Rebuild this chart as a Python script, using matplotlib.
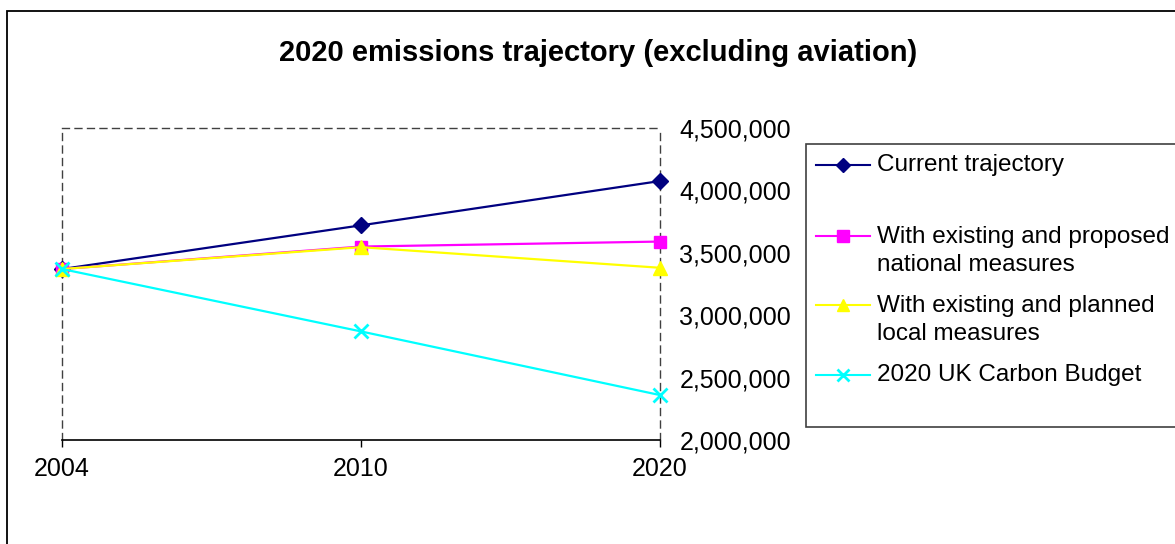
import matplotlib
matplotlib.use("Agg")
import matplotlib.pyplot as plt
from matplotlib.lines import Line2D
from matplotlib.patches import Rectangle
from matplotlib.ticker import FuncFormatter

plt.rcParams['font.family'] = ['Liberation Sans', 'DejaVu Sans']

years = ["2004", "2010", "2020"]
current = [3370000, 3720000, 4075000]
national = [3370000, 3550000, 3590000]
local = [3370000, 3545000, 3380000]
budget = [3370000, 2870000, 2360000]
series_names = ["Current trajectory",
                "With existing and proposed\nnational measures",
                "With existing and planned\nlocal measures",
                "2020 UK Carbon Budget"]
colors = ["#000080", "#FF00FF", "#FFFF00", "#00FFFF"]
markers = ["D", "s", "^", "x"]
msizes = [8, 9, 10, 10]

W, H = 1175, 544
fig = plt.figure(figsize=(W / 100, H / 100), dpi=100)

def fx(x):
    return x / W

def fy(y):
    return 1 - y / H

# outer chart border (cropped at right and bottom)
fig.add_artist(Rectangle((fx(7), fy(600)), fx(1300 - 7), fy(11) - fy(600),
                         transform=fig.transFigure, fill=False,
                         edgecolor="black", linewidth=1.3))

fig.text(fx(598), fy(53), "2020 emissions trajectory (excluding aviation)",
         ha="center", va="center", fontsize=21, fontweight="bold")

ax = fig.add_axes([fx(62), fy(440), fx(660 - 62), fy(128) - fy(440)])
x = list(range(len(years)))
all_series = [current, national, local, budget]
for vals, c, m, ms in zip(all_series, colors, markers, msizes):
    mew = 2 if m == "x" else 1
    ax.plot(x, vals, color=c, marker=m, markersize=ms, linewidth=1.6,
            markeredgewidth=mew, clip_on=False, zorder=3)

ax.set_xlim(0, 2)
ax.set_ylim(2000000, 4500000)
ax.set_yticks([2000000, 2500000, 3000000, 3500000, 4000000, 4500000])
ax.yaxis.set_major_formatter(FuncFormatter(lambda v, p: f"{int(v):,}"))
ax.yaxis.tick_right()
ax.tick_params(axis="y", length=0, pad=14, labelsize=18)
ax.set_xticks(x)
ax.set_xticklabels(years)
ax.tick_params(axis="x", direction="out", length=5, width=1, pad=7,
               labelsize=18, color="black")

for side in ["left", "top", "right"]:
    ax.spines[side].set_linestyle((0, (5, 4)))
    ax.spines[side].set_color("#404040")
    ax.spines[side].set_linewidth(1)
ax.spines["bottom"].set_color("black")
ax.spines["bottom"].set_linewidth(1.2)

# legend (drawn manually to match Excel's uneven spacing)
fig.add_artist(Rectangle((fx(806), fy(427)), fx(1300 - 806), fy(144) - fy(427),
                         transform=fig.transFigure, facecolor="white",
                         edgecolor="#404040", linewidth=1.2, zorder=2))
leg_y = [165, 251, 320, 375]
for lab, c, m, ms, yy in zip(series_names, colors, markers, msizes, leg_y):
    ym = yy if "\n" not in lab else yy - 15
    mew = 2 if m == "x" else 1
    fig.add_artist(Line2D([fx(816), fx(870)], [fy(ym), fy(ym)], color=c,
                          linewidth=1.5, transform=fig.transFigure, zorder=3))
    fig.add_artist(Line2D([fx(843)], [fy(ym)], color=c, marker=m,
                          markersize=ms * 0.9, markeredgewidth=mew,
                          transform=fig.transFigure, zorder=4))
    fig.text(fx(877), fy(yy), lab, ha="left", va="center", fontsize=17.5,
             linespacing=1.4, zorder=4)

fig.savefig("out.png", dpi=100)
